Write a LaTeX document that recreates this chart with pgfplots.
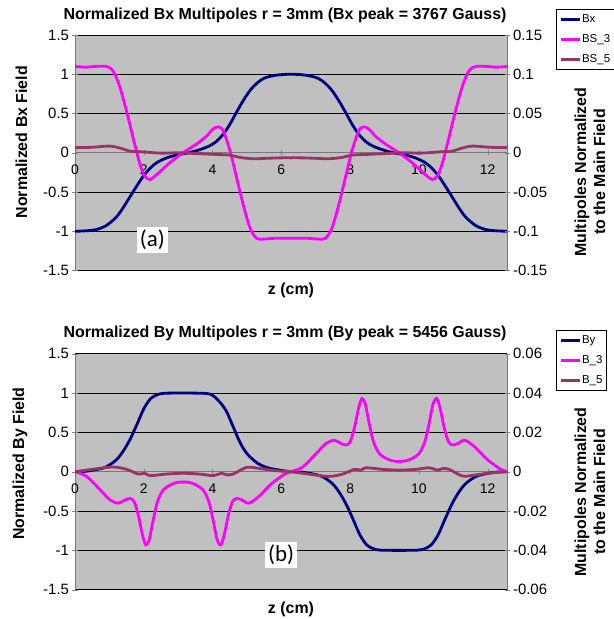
\documentclass[border=0pt]{standalone}
\usepackage{fontspec}
\setmainfont{Liberation Sans}
\newfontfamily\calibri{Carlito}
\usepackage{pgfplots}
\usepackage{pgfplotstable}
\pgfplotsset{compat=1.18}

\definecolor{bxnavy}{RGB}{0,0,128}
\definecolor{bsmag}{RGB}{255,0,255}
\definecolor{bsplum}{RGB}{153,51,102}
\definecolor{plotgray}{RGB}{192,192,192}
\definecolor{axgray}{RGB}{120,120,120}

% top panel (a): Bx field, left axis units
\pgfplotstableread{
z v
0 -1.000
0.3 -0.995
0.6 -0.980
0.9 -0.930
1.2 -0.820
1.4 -0.700
1.6 -0.560
1.8 -0.420
2.0 -0.290
2.2 -0.190
2.4 -0.120
2.7 -0.060
3.0 -0.025
3.3 0.000
3.6 0.035
3.9 0.085
4.1 0.140
4.3 0.230
4.5 0.360
4.7 0.520
4.9 0.670
5.1 0.800
5.3 0.890
5.5 0.950
5.8 0.985
6.1 0.998
6.28 1.000
6.46 0.998
6.76 0.985
7.06 0.950
7.26 0.890
7.46 0.800
7.66 0.670
7.86 0.520
8.06 0.360
8.26 0.230
8.46 0.140
8.66 0.085
8.96 0.035
9.26 0.000
9.56 -0.025
9.86 -0.060
10.16 -0.120
10.36 -0.190
10.56 -0.290
10.76 -0.420
10.96 -0.560
11.16 -0.700
11.36 -0.820
11.66 -0.930
11.96 -0.980
12.26 -0.995
12.56 -1.000
}\bxtab

% BS_3, right axis units
\pgfplotstableread{
z v
0 0.110
0.3 0.109
0.6 0.110
0.9 0.110
1.05 0.107
1.16 0.100
1.31 0.083
1.5 0.053
1.69 0.019
1.89 -0.015
2.03 -0.030
2.18 -0.034
2.37 -0.028
2.75 -0.013
3.14 0.000
3.53 0.011
3.82 0.021
4.01 0.030
4.16 0.033
4.31 0.028
4.51 0.002
4.70 -0.032
4.89 -0.066
5.09 -0.096
5.28 -0.109
5.47 -0.110
5.8 -0.109
6.28 -0.109
6.76 -0.109
7.09 -0.110
7.28 -0.109
7.47 -0.096
7.67 -0.066
7.86 -0.032
8.05 0.002
8.25 0.028
8.40 0.033
8.55 0.030
8.74 0.021
9.03 0.011
9.42 0.000
9.81 -0.013
10.19 -0.028
10.38 -0.034
10.53 -0.030
10.67 -0.015
10.87 0.019
11.06 0.053
11.25 0.083
11.40 0.100
11.51 0.107
11.66 0.110
11.96 0.110
12.26 0.109
12.56 0.110
}\bsthreetab

% BS_5, right axis units
\pgfplotstableread{
z v
0 0.0065
0.5 0.0070
1.0 0.0085
1.3 0.0060
1.6 0.0020
1.8 0.0015
2.0 0.0010
2.5 -0.0005
3.0 0.0000
3.5 -0.0010
4.0 -0.0020
4.5 -0.0030
4.8 -0.0060
5.2 -0.0077
5.6 -0.0070
6.0 -0.0065
6.28 -0.0065
6.56 -0.0065
6.96 -0.0070
7.36 -0.0077
7.76 -0.0060
8.06 -0.0030
8.56 -0.0020
9.06 -0.0010
9.56 0.0000
10.06 -0.0005
10.56 0.0010
10.76 0.0015
10.96 0.0020
11.26 0.0060
11.56 0.0085
12.06 0.0070
12.56 0.0065
}\bsfivetab

% bottom panel (b): By field, left axis units
\pgfplotstableread{
z v
0 0
0.3 0.005
0.6 0.025
0.9 0.06
1.2 0.15
1.4 0.26
1.6 0.41
1.8 0.60
2.0 0.80
2.2 0.93
2.4 0.98
2.6 0.997
3.14 1.0
3.8 0.995
4.0 0.97
4.2 0.89
4.4 0.77
4.6 0.57
4.8 0.37
5.0 0.23
5.3 0.11
5.6 0.05
5.95 0.02
6.28 0
6.58 -0.005
6.88 -0.025
7.18 -0.06
7.48 -0.15
7.68 -0.26
7.88 -0.41
8.08 -0.60
8.28 -0.80
8.48 -0.93
8.68 -0.98
8.88 -0.997
9.42 -1.0
9.96 -0.997
10.16 -0.98
10.36 -0.93
10.56 -0.80
10.76 -0.60
10.96 -0.41
11.16 -0.26
11.36 -0.15
11.66 -0.06
11.96 -0.025
12.26 -0.005
12.56 0
}\bytab

% B_3, right axis units
\pgfplotstableread{
z v
0 0
0.34 -0.0024
0.73 -0.0092
1.02 -0.0144
1.26 -0.0160
1.45 -0.0144
1.60 -0.0136
1.72 -0.0152
1.84 -0.0220
1.96 -0.0320
2.06 -0.0372
2.16 -0.0344
2.28 -0.0240
2.40 -0.0152
2.57 -0.0092
2.86 -0.0060
3.14 -0.0052
3.43 -0.0060
3.72 -0.0092
3.89 -0.0152
4.01 -0.0240
4.13 -0.0344
4.24 -0.0372
4.34 -0.0320
4.46 -0.0220
4.58 -0.0152
4.70 -0.0136
4.86 -0.0144
5.05 -0.0160
5.33 -0.0128
5.72 -0.0060
6.10 -0.0012
6.28 0
6.62 0.0024
7.01 0.0092
7.30 0.0144
7.54 0.0160
7.73 0.0144
7.88 0.0136
8.00 0.0152
8.12 0.0220
8.24 0.0320
8.34 0.0372
8.44 0.0344
8.56 0.0240
8.68 0.0152
8.85 0.0092
9.14 0.0060
9.42 0.0052
9.71 0.0060
10.00 0.0092
10.17 0.0152
10.29 0.0240
10.41 0.0344
10.52 0.0372
10.62 0.0320
10.74 0.0220
10.86 0.0152
10.98 0.0136
11.14 0.0144
11.33 0.0160
11.61 0.0128
12.00 0.0060
12.38 0.0012
12.56 0
}\bthreetab

% B_5, right axis units
\pgfplotstableread{
z v
0 0
0.5 0.0012
1.1 0.0024
1.5 0.0012
1.84 -0.0012
2.03 -0.0008
2.18 -0.0020
2.66 -0.0012
3.14 -0.0008
3.63 -0.0012
4.02 -0.0020
4.26 -0.0008
4.41 -0.0016
4.6 -0.0012
4.99 0.0022
5.38 0.0016
5.86 0.0005
6.28 0
6.78 -0.0012
7.38 -0.0024
7.78 -0.0012
8.12 0.0012
8.31 0.0008
8.46 0.0020
8.94 0.0012
9.42 0.0008
9.91 0.0012
10.30 0.0020
10.54 0.0008
10.69 0.0016
10.88 0.0012
11.27 -0.0022
11.66 -0.0016
12.14 -0.0005
12.56 0
}\bfivetab

\pgfplotsset{
  panel/.style={
    scale only axis, width=432bp,
    xmin=0, xmax=12.56,
    tick align=outside, major tick length=5bp,
    tick label style={font=\fontsize{15}{17}\selectfont,
      /pgf/number format/assume math mode=true},
    every axis plot/.append style={line width=2.8bp, smooth, tension=0.5},
  },
  leftax/.style={panel,
    axis x line=middle, axis y line=left,
    hide obscured x ticks=false,
    axis line style={-, draw=axgray, line width=1bp},
    axis background/.style={fill=plotgray},
    ymin=-1.5, ymax=1.5, ytick={-1.5,-1,-0.5,0,0.5,1,1.5},
    xtick={0,2,4,6,8,10,12},
    xticklabel style={font=\fontsize{14}{16}\selectfont, yshift=-6bp},
    ymajorgrids, grid style={black, line width=0.6bp},
    xlabel={z (cm)},
    xlabel style={at={(rel axis cs:0.5,0)}, anchor=north, yshift=-9bp,
      font=\bfseries\fontsize{16}{19}\selectfont},
    ylabel style={font=\bfseries\fontsize{16}{19}\selectfont},
    title style={font=\bfseries\fontsize{16}{19}\selectfont, xshift=-6bp, yshift=3bp},
  },
  rightax/.style={panel,
    axis y line=right, axis x line=none,
    clip mode=individual,
    y axis line style={-, draw=axgray, line width=1bp},
    scaled y ticks=false,
    yticklabel style={/pgf/number format/fixed, /pgf/number format/precision=2},
    legend style={draw=black, line width=0.6bp, fill=white, anchor=north west,
      font=\fontsize{11.5}{12}\selectfont, inner xsep=3bp, inner ysep=3.5bp,
      row sep=6.5bp, nodes={inner xsep=1bp}},
    legend cell align=left,
    legend image code/.code={\draw[#1, line width=2.8bp] (0bp,0bp) -- (19bp,0bp);},
  },
}
\tikzset{
  rlabel/.style={rotate=90, anchor=center, align=center,
    font=\bfseries\fontsize{16}{19}\selectfont},
}

\begin{document}
\begin{tikzpicture}
\useasboundingbox (0,0) rectangle (614bp,-619bp);

% ---- panel (a) ----
\begin{axis}[leftax, at={(75bp,-35bp)}, anchor=north west, height=235.5bp,
  ylabel={Normalized Bx Field},
  ylabel style={at={(ticklabel cs:0.545,9bp)}},
  title={Normalized Bx Multipoles r = 3mm (Bx peak = 3767 Gauss)}]
\addplot[bxnavy] table[x=z, y=v] {\bxtab};
\node[fill=white, inner sep=3bp, font=\calibri\fontsize{23}{26}\selectfont]
  at (axis cs:2.25,-1.106) {(a)};
\end{axis}
\begin{axis}[rightax, at={(75bp,-35bp)}, anchor=north west, height=235.5bp,
  ymin=-0.15, ymax=0.15, ytick={-0.15,-0.1,-0.05,0,0.05,0.1,0.15},
  legend style={at={(1.1134,1.111)}}]
\addlegendimage{bxnavy}
\addlegendentry{Bx}
\addplot[bsmag] table[x=z, y=v] {\bsthreetab};
\addlegendentry{BS\_3}
\addplot[bsplum] table[x=z, y=v] {\bsfivetab};
\addlegendentry{BS\_5}
\node[rlabel] at ([xshift=83bp]rel axis cs:1,0.418)
  {Multipoles Normalized\\to the Main Field};
\end{axis}

% ---- panel (b) ----
\begin{axis}[leftax, at={(75bp,-353.7bp)}, anchor=north west, height=236bp,
  ylabel={Normalized By Field},
  ylabel style={at={(ticklabel cs:0.535,9bp)}},
  title={Normalized By Multipoles r = 3mm (By peak = 5456 Gauss)}]
\addplot[bxnavy] table[x=z, y=v] {\bytab};
\node[fill=white, inner sep=3bp, font=\calibri\fontsize{23}{26}\selectfont]
  at (axis cs:5.99,-1.06) {(b)};
\end{axis}
\begin{axis}[rightax, at={(75bp,-353.7bp)}, anchor=north west, height=236bp,
  ymin=-0.06, ymax=0.06, ytick={-0.06,-0.04,-0.02,0,0.02,0.04,0.06},
  legend style={at={(1.1134,1.1)}}]
\addlegendimage{bxnavy}
\addlegendentry{By}
\addplot[bsmag] table[x=z, y=v] {\bthreetab};
\addlegendentry{B\_3}
\addplot[bsplum] table[x=z, y=v] {\bfivetab};
\addlegendentry{B\_5}
\node[rlabel] at ([xshift=83bp]rel axis cs:1,0.414)
  {Multipoles Normalized\\to the Main Field};
\end{axis}
\end{tikzpicture}
\end{document}
